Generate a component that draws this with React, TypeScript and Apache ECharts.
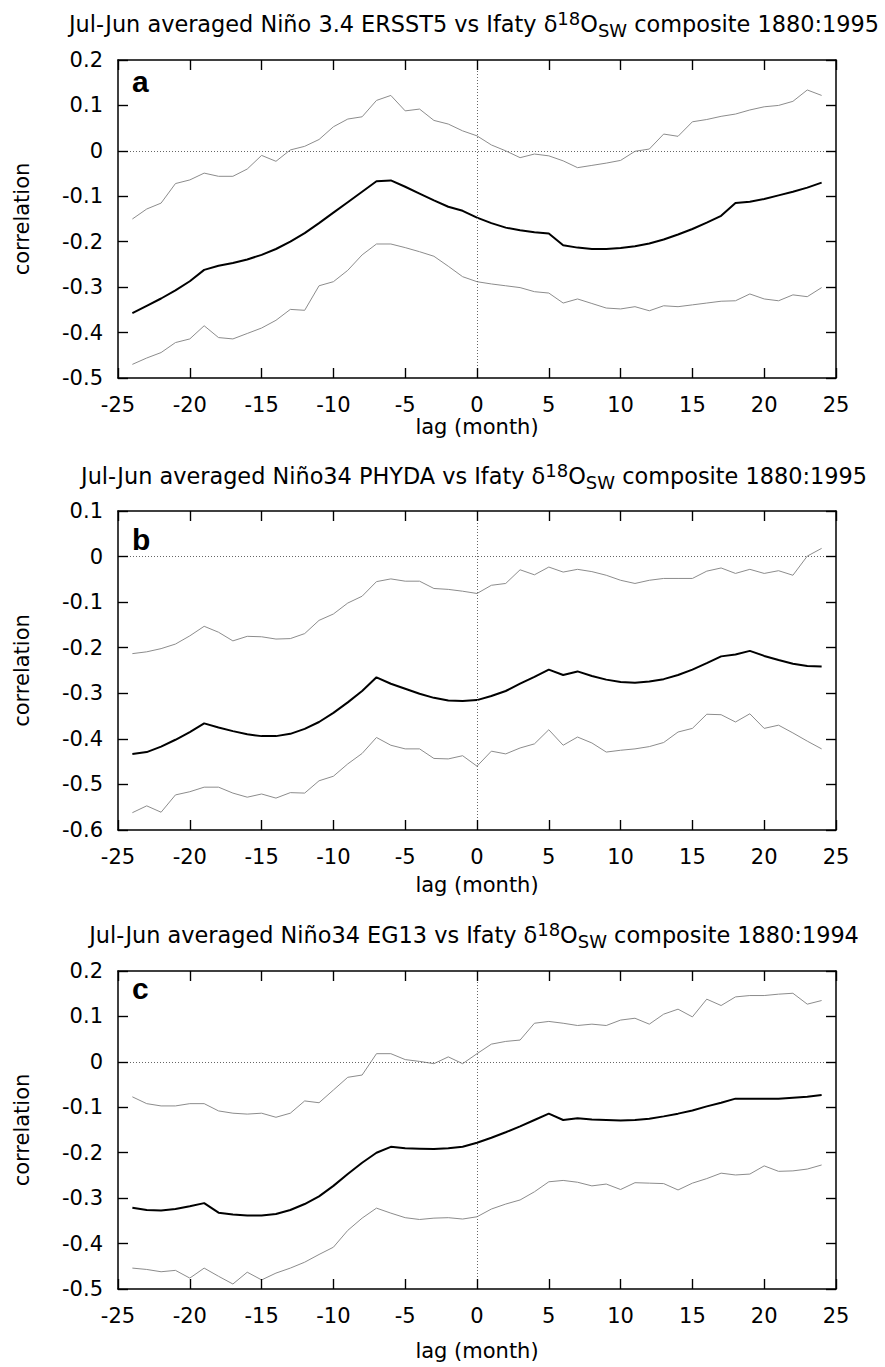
import { useEffect, useRef } from "react";
import * as echarts from "echarts";

// lag in months
const LAGS = [
  -24, -23, -22, -21, -20, -19, -18, -17, -16, -15, -14, -13, -12, -11, -10, -9, -8,
  -7, -6, -5, -4, -3, -2, -1, 0, 1, 2, 3, 4, 5, 6, 7, 8, 9, 10, 11, 12, 13, 14, 15,
  16, 17, 18, 19, 20, 21, 22, 23, 24,
];

// panel a: ERSST5
const A_UPPER = [
  -0.150, -0.128, -0.115, -0.072, -0.064, -0.049, -0.056, -0.056, -0.040, -0.010, -0.023, 0.002,
  0.010, 0.025, 0.053, 0.070, 0.075, 0.111, 0.122, 0.088, 0.092, 0.067, 0.059, 0.044, 0.033,
  0.013, 0.000, -0.015, -0.007, -0.011, -0.022, -0.037, -0.032, -0.027, -0.021, -0.001, 0.004,
  0.037, 0.032, 0.064, 0.069, 0.076, 0.081, 0.090, 0.097, 0.100, 0.109, 0.134, 0.122,
];
const A_MID = [
  -0.357, -0.341, -0.325, -0.307, -0.287, -0.262, -0.253, -0.247, -0.239, -0.229, -0.216, -0.200,
  -0.181, -0.159, -0.136, -0.113, -0.090, -0.067, -0.065, -0.079, -0.094, -0.109, -0.123, -0.132,
  -0.147, -0.159, -0.169, -0.175, -0.179, -0.182, -0.208, -0.213, -0.216, -0.216, -0.214, -0.210,
  -0.204, -0.195, -0.184, -0.172, -0.158, -0.143, -0.115, -0.112, -0.106, -0.098, -0.090, -0.081,
  -0.070,
];
const A_LOW = [
  -0.470, -0.456, -0.444, -0.422, -0.414, -0.385, -0.411, -0.414, -0.402, -0.390, -0.373, -0.349,
  -0.351, -0.297, -0.288, -0.263, -0.229, -0.205, -0.205, -0.213, -0.222, -0.232, -0.254, -0.277,
  -0.288, -0.293, -0.297, -0.301, -0.310, -0.313, -0.335, -0.326, -0.336, -0.346, -0.348, -0.343,
  -0.352, -0.341, -0.343, -0.339, -0.335, -0.331, -0.330, -0.315, -0.326, -0.330, -0.317, -0.321,
  -0.301,
];

// panel b: PHYDA
const B_UPPER = [
  -0.213, -0.209, -0.202, -0.192, -0.174, -0.153, -0.166, -0.185, -0.175, -0.176, -0.181, -0.180,
  -0.169, -0.140, -0.126, -0.102, -0.087, -0.055, -0.049, -0.054, -0.054, -0.070, -0.072, -0.076,
  -0.081, -0.063, -0.059, -0.029, -0.040, -0.023, -0.034, -0.028, -0.033, -0.041, -0.052, -0.059,
  -0.052, -0.048, -0.048, -0.048, -0.032, -0.025, -0.037, -0.028, -0.037, -0.031, -0.041, 0.001,
  0.018,
];
const B_MID = [
  -0.433, -0.429, -0.417, -0.402, -0.385, -0.366, -0.375, -0.383, -0.390, -0.394, -0.394, -0.389,
  -0.378, -0.363, -0.343, -0.320, -0.295, -0.265, -0.279, -0.290, -0.301, -0.310, -0.316, -0.317,
  -0.315, -0.306, -0.295, -0.279, -0.264, -0.248, -0.260, -0.252, -0.262, -0.270, -0.275, -0.277,
  -0.274, -0.269, -0.260, -0.248, -0.234, -0.219, -0.215, -0.207, -0.218, -0.227, -0.235, -0.240,
  -0.241,
];
const B_LOW = [
  -0.562, -0.547, -0.561, -0.523, -0.516, -0.506, -0.506, -0.519, -0.528, -0.521, -0.530, -0.518,
  -0.519, -0.492, -0.482, -0.455, -0.432, -0.397, -0.414, -0.422, -0.422, -0.443, -0.444, -0.437,
  -0.460, -0.427, -0.433, -0.420, -0.411, -0.380, -0.414, -0.396, -0.409, -0.429, -0.425, -0.422,
  -0.417, -0.408, -0.385, -0.377, -0.346, -0.347, -0.363, -0.345, -0.377, -0.370, -0.387, -0.405,
  -0.422,
];

// panel c: EG13
const C_UPPER = [
  -0.077, -0.092, -0.097, -0.097, -0.092, -0.092, -0.108, -0.113, -0.115, -0.113, -0.122, -0.113,
  -0.086, -0.090, -0.062, -0.034, -0.029, 0.018, 0.018, 0.005, 0.001, -0.004, 0.011, -0.004,
  0.018, 0.039, 0.045, 0.048, 0.085, 0.089, 0.085, 0.080, 0.083, 0.080, 0.092, 0.096, 0.083,
  0.105, 0.116, 0.099, 0.138, 0.124, 0.143, 0.146, 0.146, 0.149, 0.151, 0.127, 0.135,
];
const C_MID = [
  -0.321, -0.326, -0.327, -0.324, -0.318, -0.311, -0.332, -0.336, -0.338, -0.338, -0.335, -0.326,
  -0.313, -0.296, -0.273, -0.247, -0.222, -0.200, -0.187, -0.190, -0.191, -0.192, -0.190, -0.187,
  -0.178, -0.167, -0.155, -0.142, -0.128, -0.114, -0.128, -0.124, -0.127, -0.128, -0.129, -0.128,
  -0.125, -0.120, -0.114, -0.107, -0.098, -0.090, -0.081, -0.081, -0.081, -0.081, -0.079, -0.077,
  -0.073,
];
const C_LOW = [
  -0.454, -0.457, -0.462, -0.459, -0.476, -0.454, -0.472, -0.489, -0.463, -0.480, -0.465, -0.454,
  -0.441, -0.424, -0.408, -0.371, -0.344, -0.322, -0.333, -0.343, -0.347, -0.344, -0.343, -0.346,
  -0.341, -0.324, -0.313, -0.304, -0.286, -0.264, -0.261, -0.265, -0.273, -0.269, -0.281, -0.266,
  -0.267, -0.268, -0.282, -0.267, -0.257, -0.245, -0.249, -0.247, -0.229, -0.241, -0.240, -0.236,
  -0.227,
];

const TITLES = [
  "Jul-Jun averaged Niño 3.4 ERSST5 vs Ifaty δ{sup|18}O{sub|SW} composite 1880:1995",
  "Jul-Jun averaged Niño34 PHYDA vs Ifaty δ{sup|18}O{sub|SW} composite 1880:1995",
  "Jul-Jun averaged Niño34 EG13 vs Ifaty δ{sup|18}O{sub|SW} composite 1880:1994",
];
const LETTERS = ["a", "b", "c"];

// tick values
const X_TICKS = [-25, -20, -15, -10, -5, 0, 5, 10, 15, 20, 25];
const Y_TICKS_AC = [-0.5, -0.4, -0.3, -0.2, -0.1, 0, 0.1, 0.2];
const Y_TICKS_B = [-0.6, -0.5, -0.4, -0.3, -0.2, -0.1, 0, 0.1];
const Y_TICKS = [Y_TICKS_AC, Y_TICKS_B, Y_TICKS_AC];
const X_TICK_STEP = 5;
const Y_TICK_STEP = 0.1;

const FONT = "DejaVu Sans";
const TICK_PX = 10;
const GRID_W = 718;

function pairs(vals: number[]) {
  return LAGS.map((l, i) => [l, vals[i]]);
}

// fresh style objects for every axis
const frameLine = () => ({ show: true, onZero: false, lineStyle: { color: "#000", width: 1.5 } });
const innerTick = () => ({ show: true, inside: true, length: TICK_PX, lineStyle: { color: "#000", width: 1.2 } });

export default function App() {
  const ref = useRef<HTMLDivElement>(null);

  useEffect(() => {
    if (!ref.current) return;
    const chart = echarts.init(ref.current, null, { renderer: "svg" });

    // layout per panel (pixels)
    const layout = [
      { top: 60, height: 318, titleY: 24, nameGap: 38, letterY: 81 },
      { top: 511, height: 319, titleY: 476, nameGap: 44, letterY: 539 },
      { top: 971, height: 318, titleY: 935, nameGap: 51, letterY: 988 },
    ];
    const series = [
      [A_UPPER, A_MID, A_LOW],
      [B_UPPER, B_MID, B_LOW],
      [C_UPPER, C_MID, C_LOW],
    ];

    const grids: any[] = [];
    const xAxes: any[] = [];
    const yAxes: any[] = [];
    const titles: any[] = [];
    const graphics: any[] = [];
    const seriesOpts: any[] = [];

    layout.forEach((p, i) => {
      grids.push({ left: 118, width: GRID_W, top: p.top, height: p.height });
      const yTicks = Y_TICKS[i]!;
      const yMin = yTicks[0]!;
      const yMax = yTicks[yTicks.length - 1]!;
      const xMin = X_TICKS[0]!;
      const xMax = X_TICKS[X_TICKS.length - 1]!;
      xAxes.push(
        {
          gridIndex: i, type: "value", position: "bottom",
          min: xMin, max: xMax, interval: X_TICK_STEP,
          axisLine: frameLine(), axisTick: innerTick(),
          axisLabel: { margin: 16, fontSize: 21, color: "#000", fontFamily: FONT },
          splitLine: { show: false },
          name: "lag (month)", nameLocation: "middle", nameGap: p.nameGap,
          nameTextStyle: { fontSize: 21, color: "#000", fontFamily: FONT },
        },
        {
          gridIndex: i, type: "value", position: "top",
          min: xMin, max: xMax, interval: X_TICK_STEP,
          axisLine: frameLine(), axisTick: innerTick(),
          axisLabel: { show: false },
          splitLine: { show: false },
        },
      );
      yAxes.push(
        {
          gridIndex: i, type: "value", position: "left",
          min: yMin, max: yMax, interval: Y_TICK_STEP,
          axisLine: frameLine(), axisTick: innerTick(),
          axisLabel: { margin: 15, fontSize: 21, color: "#000", fontFamily: FONT },
          splitLine: { show: false },
          name: "correlation", nameLocation: "middle", nameGap: 86,
          nameTextStyle: { fontSize: 21, color: "#000", fontFamily: FONT },
        },
        {
          gridIndex: i, type: "value", position: "right",
          min: yMin, max: yMax, interval: Y_TICK_STEP,
          axisLine: frameLine(), axisTick: innerTick(),
          axisLabel: { show: false },
          splitLine: { show: false },
        },
      );
      titles.push({
        text: TITLES[i],
        left: 474,
        top: p.titleY,
        padding: 0,
        textAlign: "center",
        textVerticalAlign: "middle",
        textStyle: {
          fontFamily: FONT, fontSize: 22.4, fontWeight: "normal", color: "#000", lineHeight: 30,
          rich: {
            sup: { fontFamily: FONT, fontSize: 18, color: "#000", verticalAlign: "top", lineHeight: 17 },
            sub: { fontFamily: FONT, fontSize: 18, color: "#000", verticalAlign: "bottom", lineHeight: 22 },
          },
        },
      });
      graphics.push({
        type: "text",
        x: 132,
        y: p.letterY,
        style: {
          text: LETTERS[i],
          font: 'bold 30px "Liberation Sans", Arial, sans-serif',
          fill: "#000",
          align: "left",
          verticalAlign: "middle",
        },
      });

      // inward tick marks on all four sides, at the tick values
      const dy = ((yMax - yMin) * TICK_PX) / p.height;
      const dx = ((xMax - xMin) * TICK_PX) / GRID_W;
      const tickSegs: any[] = [];
      X_TICKS.forEach((t) => {
        tickSegs.push([{ coord: [t, yMin] }, { coord: [t, yMin + dy] }]);
        tickSegs.push([{ coord: [t, yMax] }, { coord: [t, yMax - dy] }]);
      });
      yTicks.forEach((v) => {
        tickSegs.push([{ coord: [xMin, v] }, { coord: [xMin + dx, v] }]);
        tickSegs.push([{ coord: [xMax, v] }, { coord: [xMax - dx, v] }]);
      });

      const [upper, mid, low] = series[i]!;
      seriesOpts.push(
        {
          name: "upper bound", type: "line", xAxisIndex: 2 * i, yAxisIndex: 2 * i,
          data: pairs(upper!), symbol: "none", silent: true,
          lineStyle: { color: "#8c8c8c", width: 1 },
          markLine: {
            silent: true, symbol: ["none", "none"], label: { show: false },
            lineStyle: { color: "#666", width: 1, type: [1, 2] },
            data: [{ yAxis: 0 }, { xAxis: 0 }],
          },
        },
        {
          name: "correlation", type: "line", xAxisIndex: 2 * i, yAxisIndex: 2 * i,
          data: pairs(mid!), symbol: "none", silent: true,
          lineStyle: { color: "#000", width: 2 },
        },
        {
          name: "lower bound", type: "line", xAxisIndex: 2 * i, yAxisIndex: 2 * i,
          data: pairs(low!), symbol: "none", silent: true,
          lineStyle: { color: "#8c8c8c", width: 1 },
          markLine: {
            silent: true, symbol: ["none", "none"], label: { show: false },
            lineStyle: { color: "#000", width: 1.2, type: "solid" },
            data: tickSegs,
          },
        },
      );
    });

    chart.setOption({
      animation: false,
      title: titles,
      grid: grids,
      xAxis: xAxes,
      yAxis: yAxes,
      graphic: graphics,
      series: seriesOpts,
    });

    return () => chart.dispose();
  }, []);

  return (
    <div
      ref={ref}
      style={{ position: "absolute", left: 0, top: 0, width: 885, height: 1367, background: "#fff" }}
    />
  );
}
